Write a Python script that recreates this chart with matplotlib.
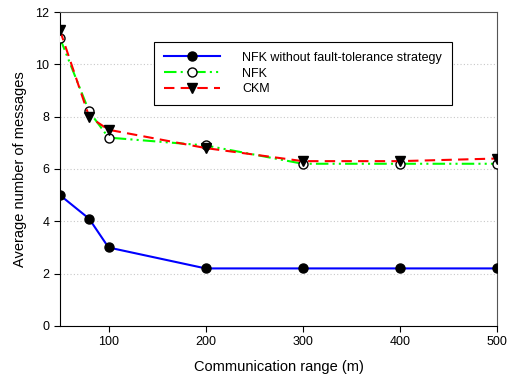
import matplotlib.pyplot as plt

plt.rcParams["font.family"] = ["Liberation Sans", "DejaVu Sans"]

# data
ranges = [50, 80, 100, 200, 300, 400, 500]
nfk_no_ft = [5.0, 4.1, 3.0, 2.2, 2.2, 2.2, 2.2]
nfk = [11.0, 8.2, 7.2, 6.9, 6.2, 6.2, 6.2]
ckm = [11.3, 8.0, 7.5, 6.8, 6.3, 6.3, 6.4]

fg = plt.figure(figsize=(5.07, 3.81), dpi=100)
ax = fg.add_axes([0.1183, 0.1444, 0.862, 0.8241])

ax.plot(ranges, nfk_no_ft, color="#0000ff", lw=1.5, marker="o", ms=6.5,
        mfc="k", mec="k", label="NFK without fault-tolerance strategy", zorder=3)
ax.plot(ranges, nfk, color="#00ff00", lw=1.5, ls=(0, (6, 2, 1, 2, 1, 2)),
        marker="o", ms=6.5, mfc="white", mec="k", label="NFK", zorder=3)
ax.plot(ranges, ckm, color="#ff0000", lw=1.5, ls=(0, (5, 3)),
        marker="v", ms=6.5, mfc="k", mec="k", label="CKM", zorder=4)

ax.set_xlim(50, 500)
ax.set_ylim(0, 12)
ax.set_xticks([100, 200, 300, 400, 500])
ax.set_yticks([0, 2, 4, 6, 8, 10, 12])
ax.grid(axis="y", color="#c8c8c8", ls=(0, (1, 2)), lw=0.8)
ax.set_axisbelow(True)
ax.tick_params(labelsize=9, direction="out", length=4, top=False, right=False)
for side in ["top", "right"]:
    ax.spines[side].set_color("#555555")

ax.set_xlabel("Communication range (m)", fontsize=10.5, labelpad=8)
ax.set_ylabel("Average number of messages", fontsize=10.5, labelpad=6)

leg = ax.legend(loc="upper left", bbox_to_anchor=(0.2, 0.925), fontsize=9,
                fancybox=False, framealpha=1, edgecolor="k", handlelength=4.5,
                labelspacing=0.3, borderpad=0.8, handletextpad=1.8)
leg.get_frame().set_linewidth(0.8)

fg.savefig("out.png", dpi=100)
